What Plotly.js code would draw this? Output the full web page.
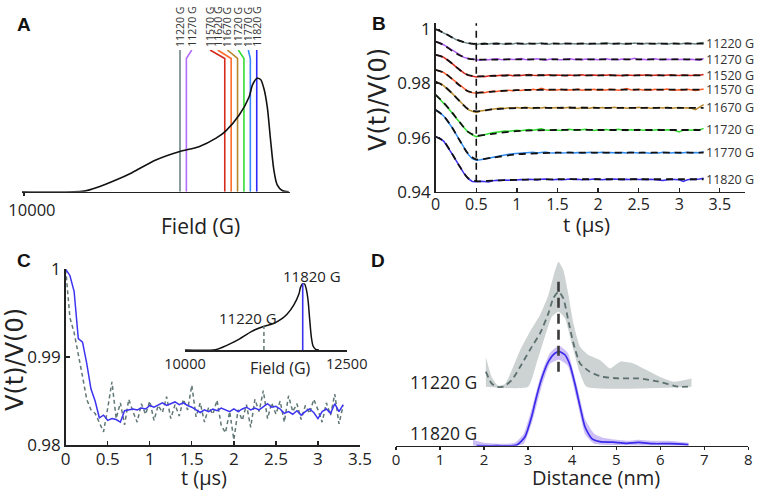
<!DOCTYPE html>
<html>
<head>
<meta charset="utf-8">
<script src="https://cdn.plot.ly/plotly-3.0.1.min.js"></script>
<style>
  html, body { margin: 0; padding: 0; background: #fff; }
  #chart { width: 757px; height: 492px; }
</style>
</head>
<body>
<div id="chart"></div>
<script>
// ---------- panel A / C inset : field-swept spectrum ----------
var specField = [9985, 10471, 10588, 10719, 10845, 11031, 11212, 11368, 11499, 11577, 11683,
                 11761, 11786, 11823, 11850, 11876, 11902, 11928, 11954, 11980, 12019, 12070];
var specInt = [0, 0.005, 0.044, 0.103, 0.168, 0.28, 0.353, 0.397, 0.47, 0.535, 0.676,
               0.838, 0.94, 1.0, 0.99, 0.91, 0.75, 0.456, 0.19, 0.06, 0.01, 0];

var fieldsA = [11220, 11270, 11570, 11620, 11670, 11720, 11770, 11820];
var colorsA = ['#6d8584', '#b46cff', '#d42a1e', '#ff6a2a', '#b8862b', '#33dd33', '#3388ff', '#2b2bff'];

// ---------- panel B : DEER traces ----------
var fieldsB = [11220, 11270, 11520, 11570, 11670, 11720, 11770, 11820];
var colorsB = ['#6f8585', '#b05cf5', '#d3261a', '#ff5a28', '#b98a2c', '#2fe02f', '#2f8cf5', '#3a2df0'];

var tB = [0, 0.05, 0.1, 0.15, 0.2, 0.25, 0.3, 0.35, 0.4, 0.45,
          0.5, 0.55, 0.6, 0.65, 0.7, 0.75, 0.8, 0.85, 0.9, 0.95,
          1, 1.05, 1.1, 1.15, 1.2, 1.25, 1.3, 1.35, 1.4, 1.45,
          1.5, 1.55, 1.6, 1.65, 1.7, 1.75, 1.8, 1.85, 1.9, 1.95,
          2, 2.05, 2.1, 2.15, 2.2, 2.25, 2.3, 2.35, 2.4, 2.45,
          2.5, 2.55, 2.6, 2.65, 2.7, 2.75, 2.8, 2.85, 2.9, 2.95,
          3, 3.05, 3.1, 3.15, 3.2, 3.25, 3.3];

var v11220 = [1.0000, 0.9994, 0.9986, 0.9979, 0.9970, 0.9962, 0.9956, 0.9951, 0.9948, 0.9946,
              0.9943, 0.9947, 0.9949, 0.9946, 0.9948, 0.9950, 0.9947, 0.9945, 0.9947, 0.9946,
              0.9949, 0.9947, 0.9945, 0.9948, 0.9946, 0.9947, 0.9949, 0.9946, 0.9945, 0.9948,
              0.9947, 0.9946, 0.9948, 0.9947, 0.9945, 0.9946, 0.9948, 0.9947, 0.9945, 0.9947,
              0.9946, 0.9948, 0.9950, 0.9947, 0.9946, 0.9948, 0.9947, 0.9945, 0.9947, 0.9949,
              0.9947, 0.9946, 0.9948, 0.9947, 0.9946, 0.9948, 0.9947, 0.9945, 0.9947, 0.9948,
              0.9946, 0.9947, 0.9949, 0.9947, 0.9946, 0.9949, 0.9951];
var v11270 = [0.9954, 0.9950, 0.9942, 0.9933, 0.9921, 0.9912, 0.9903, 0.9896, 0.9892, 0.9889,
              0.9887, 0.9886, 0.9888, 0.9887, 0.9889, 0.9891, 0.9888, 0.9887, 0.9890, 0.9888,
              0.9889, 0.9892, 0.9888, 0.9887, 0.9889, 0.9891, 0.9888, 0.9886, 0.9889, 0.9890,
              0.9888, 0.9887, 0.9889, 0.9891, 0.9888, 0.9889, 0.9887, 0.9890, 0.9888, 0.9889,
              0.9887, 0.9889, 0.9891, 0.9888, 0.9889, 0.9887, 0.9890, 0.9888, 0.9889, 0.9893,
              0.9888, 0.9889, 0.9887, 0.9889, 0.9891, 0.9888, 0.9887, 0.9889, 0.9888, 0.9890,
              0.9888, 0.9889, 0.9887, 0.9889, 0.9888, 0.9886, 0.9892];
var v11520 = [0.9905, 0.9902, 0.9896, 0.9886, 0.9874, 0.9861, 0.9849, 0.9838, 0.9830, 0.9826,
              0.9824, 0.9826, 0.9825, 0.9827, 0.9829, 0.9828, 0.9830, 0.9829, 0.9831, 0.9828,
              0.9830, 0.9829, 0.9831, 0.9833, 0.9830, 0.9829, 0.9831, 0.9830, 0.9832, 0.9829,
              0.9831, 0.9830, 0.9828, 0.9831, 0.9829, 0.9830, 0.9832, 0.9829, 0.9830, 0.9831,
              0.9829, 0.9831, 0.9830, 0.9832, 0.9829, 0.9830, 0.9828, 0.9831, 0.9830, 0.9829,
              0.9831, 0.9830, 0.9832, 0.9829, 0.9830, 0.9831, 0.9829, 0.9830, 0.9832, 0.9830,
              0.9829, 0.9831, 0.9830, 0.9829, 0.9831, 0.9830, 0.9833];
var v11570 = [0.9850, 0.9846, 0.9840, 0.9829, 0.9817, 0.9804, 0.9791, 0.9779, 0.9770, 0.9766,
              0.9764, 0.9767, 0.9766, 0.9769, 0.9771, 0.9770, 0.9773, 0.9772, 0.9775, 0.9773,
              0.9776, 0.9774, 0.9777, 0.9775, 0.9778, 0.9776, 0.9782, 0.9777, 0.9775, 0.9777,
              0.9776, 0.9778, 0.9775, 0.9777, 0.9776, 0.9779, 0.9775, 0.9777, 0.9776, 0.9778,
              0.9775, 0.9777, 0.9776, 0.9778, 0.9777, 0.9775, 0.9777, 0.9781, 0.9777, 0.9776,
              0.9778, 0.9776, 0.9777, 0.9775, 0.9778, 0.9776, 0.9777, 0.9779, 0.9776, 0.9775,
              0.9777, 0.9776, 0.9778, 0.9775, 0.9774, 0.9777, 0.9779];
var v11670 = [0.9806, 0.9801, 0.9791, 0.9779, 0.9764, 0.9749, 0.9733, 0.9716, 0.9703, 0.9697,
              0.9693, 0.9698, 0.9700, 0.9703, 0.9705, 0.9707, 0.9709, 0.9707, 0.9710, 0.9709,
              0.9711, 0.9708, 0.9712, 0.9710, 0.9707, 0.9711, 0.9709, 0.9712, 0.9708, 0.9710,
              0.9711, 0.9708, 0.9710, 0.9712, 0.9709, 0.9707, 0.9711, 0.9710, 0.9708, 0.9712,
              0.9709, 0.9711, 0.9708, 0.9710, 0.9712, 0.9709, 0.9711, 0.9708, 0.9710, 0.9709,
              0.9712, 0.9709, 0.9711, 0.9708, 0.9710, 0.9711, 0.9709, 0.9712, 0.9708, 0.9710,
              0.9711, 0.9709, 0.9710, 0.9708, 0.9703, 0.9712, 0.9722];
var v11720 = [0.9758, 0.9740, 0.9726, 0.9710, 0.9693, 0.9674, 0.9655, 0.9636, 0.9620, 0.9610,
              0.9603, 0.9607, 0.9611, 0.9615, 0.9618, 0.9620, 0.9622, 0.9624, 0.9623, 0.9626,
              0.9627, 0.9625, 0.9628, 0.9630, 0.9627, 0.9629, 0.9632, 0.9628, 0.9627, 0.9629,
              0.9628, 0.9626, 0.9629, 0.9631, 0.9628, 0.9627, 0.9629, 0.9631, 0.9628, 0.9626,
              0.9629, 0.9628, 0.9630, 0.9627, 0.9629, 0.9631, 0.9628, 0.9626, 0.9629, 0.9628,
              0.9630, 0.9627, 0.9629, 0.9626, 0.9628, 0.9630, 0.9627, 0.9629, 0.9628, 0.9626,
              0.9621, 0.9628, 0.9629, 0.9627, 0.9630, 0.9628, 0.9634];
var v11770 = [0.9702, 0.9693, 0.9679, 0.9660, 0.9638, 0.9613, 0.9587, 0.9561, 0.9538, 0.9522,
              0.9516, 0.9518, 0.9521, 0.9525, 0.9528, 0.9531, 0.9534, 0.9536, 0.9538, 0.9540,
              0.9541, 0.9543, 0.9542, 0.9544, 0.9546, 0.9543, 0.9545, 0.9547, 0.9544, 0.9543,
              0.9545, 0.9543, 0.9544, 0.9546, 0.9543, 0.9545, 0.9542, 0.9544, 0.9546, 0.9543,
              0.9544, 0.9546, 0.9543, 0.9545, 0.9544, 0.9542, 0.9545, 0.9543, 0.9546, 0.9544,
              0.9543, 0.9545, 0.9544, 0.9542, 0.9545, 0.9543, 0.9546, 0.9544, 0.9543, 0.9545,
              0.9542, 0.9544, 0.9546, 0.9543, 0.9545, 0.9544, 0.9548];
var v11820 = [0.9603, 0.9598, 0.9586, 0.9565, 0.9541, 0.9516, 0.9491, 0.9467, 0.9448, 0.9438,
              0.9437, 0.9439, 0.9438, 0.9436, 0.9440, 0.9442, 0.9441, 0.9443, 0.9442, 0.9444,
              0.9443, 0.9445, 0.9444, 0.9446, 0.9445, 0.9443, 0.9446, 0.9447, 0.9445, 0.9444,
              0.9446, 0.9444, 0.9445, 0.9447, 0.9445, 0.9446, 0.9444, 0.9446, 0.9445, 0.9447,
              0.9446, 0.9444, 0.9446, 0.9445, 0.9447, 0.9445, 0.9444, 0.9446, 0.9445, 0.9447,
              0.9445, 0.9446, 0.9444, 0.9446, 0.9445, 0.9443, 0.9441, 0.9444, 0.9446, 0.9445,
              0.9444, 0.9438, 0.9444, 0.9446, 0.9445, 0.9447, 0.9450];
var tracesB = [v11220, v11270, v11520, v11570, v11670, v11720, v11770, v11820];

// fitted curves (black dashed)
var tFit = [0, 0.1, 0.2, 0.3, 0.4, 0.5, 0.7, 1.0, 1.5, 2.0, 2.5, 3.0, 3.3];
var fit11220 = [1.0000, 0.9987, 0.9970, 0.9957, 0.9949, 0.9946, 0.9946, 0.9947, 0.9947, 0.9947, 0.9947, 0.9947, 0.9947];
var fit11270 = [0.9954, 0.9942, 0.9921, 0.9903, 0.9892, 0.9888, 0.9888, 0.9889, 0.9889, 0.9889, 0.9889, 0.9889, 0.9889];
var fit11520 = [0.9905, 0.9896, 0.9874, 0.9849, 0.9831, 0.9826, 0.9828, 0.9830, 0.9830, 0.9830, 0.9830, 0.9830, 0.9830];
var fit11570 = [0.9850, 0.9840, 0.9817, 0.9791, 0.9771, 0.9765, 0.9770, 0.9775, 0.9777, 0.9777, 0.9777, 0.9777, 0.9777];
var fit11670 = [0.9806, 0.9791, 0.9764, 0.9733, 0.9705, 0.9697, 0.9704, 0.9709, 0.9710, 0.9710, 0.9710, 0.9710, 0.9710];
var fit11720 = [0.9758, 0.9728, 0.9693, 0.9655, 0.9621, 0.9607, 0.9614, 0.9624, 0.9628, 0.9628, 0.9628, 0.9628, 0.9628];
var fit11770 = [0.9702, 0.9679, 0.9638, 0.9587, 0.9540, 0.9519, 0.9526, 0.9538, 0.9544, 0.9544, 0.9544, 0.9544, 0.9544];
var fit11820 = [0.9603, 0.9586, 0.9541, 0.9491, 0.9450, 0.9439, 0.9441, 0.9444, 0.9446, 0.9446, 0.9446, 0.9446, 0.9446];
var fitsB = [fit11220, fit11270, fit11520, fit11570, fit11670, fit11720, fit11770, fit11820];

// ---------- panel C : two traces compared ----------
var c11820 = [1.0000, 0.9993, 0.9975, 0.9921, 0.9917, 0.9893, 0.9864, 0.9850, 0.9831, 0.9834,
              0.9828, 0.9830, 0.9829, 0.9826, 0.9839, 0.9840, 0.9841, 0.9840, 0.9842, 0.9841,
              0.9845, 0.9843, 0.9846, 0.9848, 0.9845, 0.9847, 0.9849, 0.9846, 0.9848, 0.9845,
              0.9843, 0.9840, 0.9837, 0.9840, 0.9838, 0.9841, 0.9839, 0.9842, 0.9840, 0.9838,
              0.9841, 0.9838, 0.9841, 0.9843, 0.9840, 0.9842, 0.9840, 0.9844, 0.9847, 0.9843,
              0.9844, 0.9841, 0.9836, 0.9838, 0.9835, 0.9839, 0.9834, 0.9838, 0.9841, 0.9837,
              0.9830, 0.9838, 0.9841, 0.9836, 0.9847, 0.9838, 0.9846];
var c11220 = [1.0000, 0.9945, 0.9928, 0.9905, 0.9878, 0.9852, 0.9840, 0.9836, 0.9826, 0.9815,
              0.9842, 0.9872, 0.9830, 0.9848, 0.9823, 0.9852, 0.9838, 0.9826, 0.9847, 0.9835,
              0.9850, 0.9828, 0.9845, 0.9837, 0.9855, 0.9830, 0.9846, 0.9833, 0.9852, 0.9840,
              0.9868, 0.9832, 0.9848, 0.9826, 0.9843, 0.9835, 0.9851, 0.9822, 0.9814, 0.9838,
              0.9806, 0.9840, 0.9828, 0.9846, 0.9820, 0.9852, 0.9838, 0.9862, 0.9830, 0.9848,
              0.9835, 0.9850, 0.9826, 0.9856, 0.9838, 0.9847, 0.9829, 0.9845, 0.9836, 0.9852,
              0.9840, 0.9826, 0.9848, 0.9834, 0.9858, 0.9824, 0.9845];
var insetFields = [11220, 11820];
var insetTop = [0.36, 1.0];

// ---------- panel D : distance distributions ----------
var dist820 = [1.83, 2.3, 2.74, 2.93, 3.08, 3.19, 3.31, 3.46, 3.61, 3.71, 3.84, 3.95, 4.06, 4.18,
               4.29, 4.44, 4.63, 4.93, 5.24, 5.5, 5.84, 6.22, 6.64];
var p820 = [0, 0, 0.007, 0.09, 0.29, 0.49, 0.674, 0.84, 0.924, 0.94, 0.907, 0.807, 0.624, 0.39,
            0.19, 0.074, 0.04, 0.035, 0.024, 0.034, 0.02, 0.02, 0.01];
var distUp820 = [1.75, 2.0, 2.4, 2.7, 2.9, 3.1, 3.3, 3.5, 3.7, 3.9, 4.1, 4.3, 4.5, 4.7, 5.0, 5.3, 5.5, 5.8, 6.2, 6.64];
var up820 = [0.06, 0.03, 0.02, 0.03, 0.12, 0.40, 0.72, 0.93, 1.0, 0.93, 0.62, 0.26, 0.12, 0.08, 0.06, 0.05, 0.06, 0.05, 0.05, 0.03];
var distLo820 = [1.75, 2.7, 2.9, 3.1, 3.3, 3.5, 3.7, 3.9, 4.1, 4.3, 4.5, 4.7, 6.64];
var lo820 = [0, 0, 0.02, 0.25, 0.58, 0.82, 0.86, 0.80, 0.47, 0.11, 0.02, 0.01, 0];

var dist220 = [2.04, 2.17, 2.29, 2.44, 2.63, 2.82, 3.04, 3.27, 3.46, 3.57, 3.69, 3.80, 3.91, 4.03,
               4.18, 4.40, 4.68, 5.06, 5.51, 5.96, 6.41, 6.64];
var p220 = [0.15, 0.033, 0, 0, 0.067, 0.2, 0.367, 0.533, 0.733, 0.883, 0.95, 0.883, 0.667, 0.433,
            0.233, 0.15, 0.10, 0.083, 0.083, 0.05, 0, 0];
var distUp220 = [2.04, 2.17, 2.32, 2.48, 2.63, 2.82, 3.04, 3.27, 3.46, 3.59, 3.69, 3.80, 3.91, 4.03,
                 4.18, 4.37, 4.63, 4.86, 5.09, 5.39, 5.69, 5.99, 6.30, 6.71];
var up220 = [0.30, 0.10, 0.01, 0.03, 0.167, 0.367, 0.55, 0.717, 0.917, 1.13, 1.25, 1.167, 0.933, 0.633,
             0.40, 0.317, 0.267, 0.183, 0.25, 0.233, 0.167, 0.10, 0.05, 0.083];
var distLo220 = [2.04, 3.0, 3.19, 3.38, 3.54, 3.69, 3.84, 3.99, 4.18, 4.33, 6.71];
var lo220 = [0, 0, 0.233, 0.50, 0.70, 0.75, 0.683, 0.433, 0.133, 0, 0];
var peakDist = 3.69;

// ---------- layout helpers ----------
var W = 757, H = 492;
var FONT = 'Open Sans, sans-serif';
var INK = '#222';
function fx(px) { return px / W; }
function fy(py) { return 1 - py / H; }

// A: label columns sit left of the kinked lines
var labelPosA = [11220, 11312, 11455, 11515, 11590, 11676, 11754, 11820];
var labelTop = 1.25, kinkY = 1.175;
var offset220 = 0.59;

var data = [];

// A
fieldsA.forEach(function (f, i) {
    data.push({
        x: [labelPosA[i], f, f], y: [labelTop, kinkY, 0],
        xaxis: 'x', yaxis: 'y', mode: 'lines',
        line: { color: colorsA[i], width: 1.6 }
    });
});
data.push({
    x: specField, y: specInt, xaxis: 'x', yaxis: 'y', mode: 'lines',
    line: { color: '#111', width: 1.6, shape: 'spline', smoothing: 0.8 }
});

// B
tracesB.forEach(function (v, i) {
    data.push({
        x: tB, y: v, xaxis: 'x2', yaxis: 'y2', mode: 'lines',
        line: { color: colorsB[i], width: 1.5 }
    });
});
fitsB.forEach(function (v) {
    data.push({
        x: tFit, y: v, xaxis: 'x2', yaxis: 'y2', mode: 'lines',
        line: { color: '#111', width: 1.8, dash: '7px,5px', shape: 'spline', smoothing: 0.8 }
    });
});

// C
data.push({
    x: tB, y: c11220, xaxis: 'x3', yaxis: 'y3', mode: 'lines',
    line: { color: '#5f7775', width: 1.5, dash: '4px,3px' }
});
data.push({
    x: tB, y: c11820, xaxis: 'x3', yaxis: 'y3', mode: 'lines',
    line: { color: '#3c34f0', width: 1.5 }
});
// C inset
data.push({
    x: specField, y: specInt, xaxis: 'x4', yaxis: 'y4', mode: 'lines',
    line: { color: '#111', width: 1.5, shape: 'spline', smoothing: 0.8 }
});
data.push({
    x: [insetFields[0], insetFields[0]], y: [0, insetTop[0]], xaxis: 'x4', yaxis: 'y4', mode: 'lines',
    line: { color: '#5f7775', width: 1.5, dash: '4px,3px' }
});
data.push({
    x: [insetFields[1], insetFields[1]], y: [0, insetTop[1]], xaxis: 'x4', yaxis: 'y4', mode: 'lines',
    line: { color: '#3c34f0', width: 1.6 }
});

// D
function shift(arr) { return arr.map(function (v) { return v + offset220; }); }
data.push({
    x: distLo220, y: shift(lo220), xaxis: 'x5', yaxis: 'y5', mode: 'lines',
    line: { width: 0, shape: 'spline', smoothing: 0.5 }
});
data.push({
    x: distUp220, y: shift(up220), xaxis: 'x5', yaxis: 'y5', mode: 'lines', fill: 'tonexty',
    fillcolor: '#cdd3d2', line: { width: 0, shape: 'spline', smoothing: 0.5 }
});
data.push({
    x: dist220, y: shift(p220), xaxis: 'x5', yaxis: 'y5', mode: 'lines',
    line: { color: '#5c706e', width: 1.8, dash: '6px,4px', shape: 'spline', smoothing: 0.6 }
});
data.push({
    x: distLo820, y: lo820, xaxis: 'x5', yaxis: 'y5', mode: 'lines',
    line: { width: 0, shape: 'spline', smoothing: 0.5 }
});
data.push({
    x: distUp820, y: up820, xaxis: 'x5', yaxis: 'y5', mode: 'lines', fill: 'tonexty',
    fillcolor: 'rgba(205,190,246,1)', line: { width: 0, shape: 'spline', smoothing: 0.5 }
});
data.push({
    x: dist820, y: p820, xaxis: 'x5', yaxis: 'y5', mode: 'lines',
    line: { color: '#3b2bea', width: 1.7, shape: 'spline', smoothing: 0.6 }
});

var ax = {
    showgrid: false, zeroline: false, showline: true, linecolor: INK, linewidth: 1.5,
    ticks: 'inside', ticklen: 4, tickwidth: 1.3, tickcolor: INK,
    tickfont: { family: FONT, size: 16, color: INK }, fixedrange: true
};
function axis(extra) { return Object.assign({}, ax, extra); }

var annotations = [];
function note(text, x, y, size, extra) {
    annotations.push(Object.assign({
        text: text, x: fx(x), y: fy(y), xref: 'paper', yref: 'paper',
        showarrow: false, xanchor: 'center', yanchor: 'middle',
        font: { family: FONT, size: size, color: INK }
    }, extra || {}));
}

// panel letters
['A', 'B', 'C', 'D'].forEach(function (L, i) {
    var pos = [[15, 12], [379, 11], [15, 260], [378, 260]][i];
    annotations.push({
        text: '<b>' + L + '</b>', x: fx(pos[0]), y: fy(pos[1]), xref: 'paper', yref: 'paper',
        showarrow: false, font: { family: 'Liberation Sans, Arial, sans-serif', size: 19, color: '#111' }
    });
});

// A labels (rotated)
fieldsA.forEach(function (f, i) {
    annotations.push({
        text: f + ' G', x: labelPosA[i], y: labelTop, xref: 'x', yref: 'y',
        textangle: -90, xanchor: 'center', yanchor: 'bottom', showarrow: false, yshift: 1,
        font: { family: FONT, size: 10.5, color: '#333' }
    });
});
// B labels at the end of each fit
fitsB.forEach(function (v, i) {
    annotations.push({
        text: fieldsB[i] + ' G', x: tFit[tFit.length - 1], y: v[v.length - 1], xref: 'x2', yref: 'y2',
        xanchor: 'left', yanchor: 'middle', xshift: 1, showarrow: false, borderpad: 0,
        font: { family: FONT, size: 12.5, color: '#333' }
    });
});

// axis titles
note('Field (G)', 200, 226, 21);
note('t (µs)', 586, 224, 20.5);
note('V(t)/V(0)', 378, 100, 24, { textangle: -90, font: { family: 'DejaVu Sans, sans-serif', size: 24, color: INK } });
note('V(t)/V(0)', 15, 360, 24, { textangle: -90, font: { family: 'DejaVu Sans, sans-serif', size: 24, color: INK } });
note('t (µs)', 204, 477, 20);
note('Field (G)', 280, 368, 16);
note('11820 G', 312, 276, 15);
note('11220 G', 248, 318, 15);
note('Distance (nm)', 596, 477, 20);
note('11220 G', 443, 382, 17.5);
note('11820 G', 443, 433, 17.5);

var layout = {
    width: W, height: H,
    margin: { l: 0, r: 0, t: 0, b: 0, pad: 0 },
    paper_bgcolor: '#fff', plot_bgcolor: 'rgba(0,0,0,0)',
    showlegend: false,
    font: { family: FONT, color: INK },

    xaxis: axis({ domain: [fx(22), fx(290)], range: [9985, 12080], anchor: 'y',
                  tickvals: [10000], ticktext: ['10000'], ticks: 'outside', ticklen: 3,
                  ticklabelshift: 8, tickfont: { family: FONT, size: 16.5, color: INK } }),
    yaxis: { domain: [fy(191.7), fy(50)], range: [0, labelTop], anchor: 'x', visible: false, fixedrange: true },

    xaxis2: axis({ domain: [fx(435.7), fx(745)], range: [0, 3.81], anchor: 'y2', tick0: 0, dtick: 0.5,
                   ticklabelstandoff: -2 }),
    yaxis2: axis({ domain: [fy(191.7), fy(22.5)], range: [0.94, 1.0025], anchor: 'x2',
                   tickvals: [0.94, 0.96, 0.98, 1], ticktext: ['0.94', '0.96', '0.98', '1'],
                   tickfont: { family: FONT, size: 17, color: INK } }),

    xaxis3: axis({ domain: [fx(65.7), fx(360)], range: [0, 3.5], anchor: 'y3', tick0: 0, dtick: 0.5,
                   ticklabelstandoff: -2, tickfont: { family: FONT, size: 17, color: INK } }),
    yaxis3: axis({ domain: [fy(445), fy(269.3)], range: [0.98, 1.0], anchor: 'x3',
                   tickvals: [0.98, 0.99, 1], ticktext: ['0.98', '0.99', '1'],
                   tickfont: { family: FONT, size: 17, color: INK } }),

    xaxis4: axis({ domain: [fx(185), fx(346.7)], range: [10000, 12500], anchor: 'y4',
                   tickvals: [10000, 12500], ticktext: ['10000', '12500'], ticks: '',
                   tickfont: { family: FONT, size: 14.5, color: INK } }),
    yaxis4: { domain: [fy(350), fy(283.3)], range: [0, 1], anchor: 'x4', visible: false, fixedrange: true },

    xaxis5: axis({ domain: [fx(396), fx(748.3)], range: [0, 8], anchor: 'y5', tick0: 0, dtick: 1,
                   ticks: 'outside', ticklen: 3, ticklabelstandoff: -3,
                   tickfont: { family: FONT, size: 15, color: INK } }),
    yaxis5: { domain: [fy(445.7), fy(255.7)], range: [0, 1.9], anchor: 'x5', visible: false, fixedrange: true },

    shapes: [
        { type: 'line', xref: 'x2', yref: 'y2', x0: 0.5, x1: 0.5, y0: 0.9437, y1: 1.0022,
          line: { color: '#111', width: 1.6, dash: '7px,5px' } },
        { type: 'line', xref: 'x5', yref: 'y5', x0: peakDist, x1: peakDist, y0: 0.74, y1: 1.674,
          line: { color: '#3a3a3a', width: 2.6, dash: '10px,6px' } }
    ],
    annotations: annotations
};

Plotly.newPlot('chart', data, layout, { staticPlot: true, displayModeBar: false });
</script>
</body>
</html>
